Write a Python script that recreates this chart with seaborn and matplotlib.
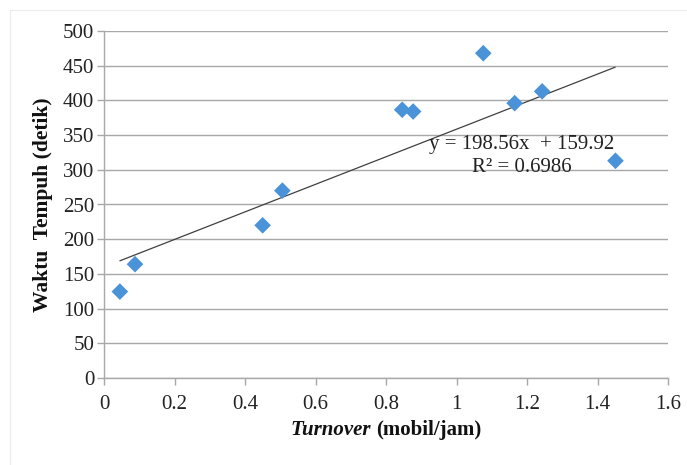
import matplotlib
matplotlib.use("Agg")
import matplotlib.pyplot as plt
import seaborn as sns
import numpy as np
import pandas as pd
from matplotlib.offsetbox import TextArea, HPacker, AnnotationBbox
from matplotlib.patches import Rectangle

# Data
turnover = [0.045, 0.088, 0.450, 0.506, 0.846, 0.877, 1.076, 1.165, 1.243, 1.451]
waktu = [124.5, 164, 220, 270, 386.5, 384, 468, 396, 413, 313]
trend_coef = [198.56, 159.92]   # slope, intercept
trend_x = [0.045, 1.45]
x_ticks = [0, 0.2, 0.4, 0.6, 0.8, 1, 1.2, 1.4, 1.6]
x_tick_labels = ["0", "0.2", "0.4", "0.6", "0.8", "1", "1.2", "1.4", "1.6"]
y_ticks = [0, 50, 100, 150, 200, 250, 300, 350, 400, 450, 500]
eq_text = "y = 198.56x  + 159.92\nR\u00b2 = 0.6986"

sns.set_theme(style="white")
plt.rcParams['font.family'] = ['Liberation Serif', 'DejaVu Serif']

fig = plt.figure(figsize=(6.87, 4.65), dpi=100)
ax = fig.add_axes([104/687, 1-378/465, (668-104)/687, (378-31)/465])

# faint outer border
fig.patches.append(Rectangle((10/687, -0.01), 1.0, 1-10/465+0.01, transform=fig.transFigure,
                             fill=False, edgecolor='#ececec', linewidth=0.8))

df = pd.DataFrame({"x": turnover, "y": waktu})
sns.scatterplot(data=df, x="x", y="y", marker="D", s=72, color="#4A93D8",
                edgecolor="none", ax=ax, zorder=3)

tx = np.array(trend_x)
ty = trend_coef[0] * tx + trend_coef[1]
sns.lineplot(x=tx, y=ty, color="#404040", linewidth=0.9, ax=ax, zorder=2)

ax.set_xlim(0, 1.6)
ax.set_ylim(0, 500)
ax.set_xticks(x_ticks)
ax.set_xticklabels(x_tick_labels)
ax.set_yticks(y_ticks)
ax.yaxis.grid(True, color="#a8a8a8", linewidth=1.0)
ax.xaxis.grid(False)
ax.set_axisbelow(True)
for s in ["top", "right"]:
    ax.spines[s].set_visible(False)
for s in ["left", "bottom"]:
    ax.spines[s].set_color("#a8a8a8")
    ax.spines[s].set_linewidth(1.0)
ax.tick_params(axis="both", which="both", direction="out", length=5, width=1.0,
               color="#a8a8a8", labelsize=15, labelcolor="#222222")
ax.tick_params(axis="y", pad=2)
ax.tick_params(axis="x", pad=7)
ax.tick_params(left=True, bottom=True)

ax.set_xlabel("")
ax.set_ylabel("Waktu  Tempuh (detik)", fontsize=15.5, fontweight="bold", color="#111111", labelpad=7)

ta1 = TextArea("Turnover", textprops=dict(fontsize=15, fontstyle="italic", fontweight="bold", color="#111111"))
ta2 = TextArea("(mobil/jam)", textprops=dict(fontsize=15, fontweight="bold", color="#111111"))
pack = HPacker(children=[ta1, ta2], align="baseline", pad=0, sep=4)
ab = AnnotationBbox(pack, (0.5, -0.15), xycoords="axes fraction", frameon=False,
                    box_alignment=(0.5, 0.5))
ax.add_artist(ab)

ax.text(1.186, 320, eq_text, ha="center", va="center", fontsize=15, color="#222222",
        linespacing=1.3, zorder=4)

fig.savefig("out.png", dpi=100, facecolor="white")
